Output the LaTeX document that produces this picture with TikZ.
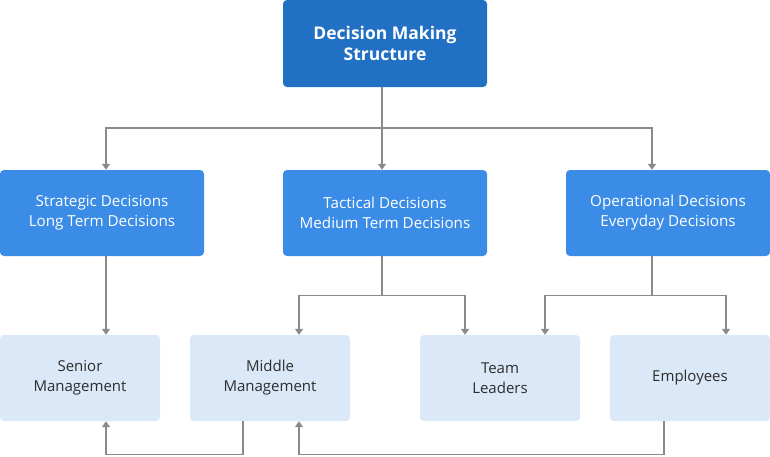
\documentclass[tikz,border=0pt]{standalone}
\usepackage{fontspec}
\setmainfont{Open Sans}
\usepackage{tikz}
\usetikzlibrary{arrows.meta,positioning,calc}
\definecolor{inkDeep}{RGB}{34, 112, 195}
\definecolor{inkMid}{RGB}{58, 140, 230}
\definecolor{inkPale}{RGB}{218, 232, 248}
\definecolor{inkText}{RGB}{45, 45, 45}
\definecolor{inkLine}{RGB}{138, 138, 138}

\begin{document}
\begin{tikzpicture}[x=1pt, y=-1pt,
    box/.style={rounded corners=4pt, align=center, inner sep=0pt},
    rootbox/.style={box, fill=inkDeep, text=white, minimum width=204pt, minimum height=87pt,
        font=\fontsize{17.5}{20.5}\selectfont\bfseries},
    levelbox/.style={box, fill=inkMid, text=white, minimum width=204pt, minimum height=86pt,
        font=\fontsize{15.2}{20}\selectfont},
    rolebox/.style={box, fill=inkPale, text=inkText, minimum width=160pt, minimum height=86pt,
        font=\fontsize{15}{20}\selectfont},
    wire/.style={draw=inkLine, line width=1.5pt},
    link/.style={wire, -{Triangle[length=6pt,width=8pt]}}]
    \useasboundingbox (0,0) rectangle (770,456);

    % top
    \node[rootbox] (root) at (385,43.5) {Decision Making\\Structure};

    % decision levels
    \node[levelbox] (strat) at (102,213) {Strategic Decisions\\Long Term Decisions};
    \node[levelbox] (tact) at (385,213) {Tactical Decisions\\Medium Term Decisions};
    \node[levelbox] (oper) at (668,213) {Operational Decisions\\Everyday Decisions};

    % roles
    \node[rolebox] (senior) at (80,378) {Senior\\Management};
    \node[rolebox] (middle) at (270,378) {Middle\\Management};
    \node[rolebox] (team) at (500,378) {Team\\Leaders};
    \node[rolebox] (staff) at (690,378) {Employees};

    % root to levels
    \coordinate (busRoot) at (382,128);
    \draw[wire] (root.south -| busRoot) -- (busRoot);
    \draw[link] (busRoot) -| ([xshift=4]strat.north);
    \draw[link] (busRoot) -- (busRoot |- tact.north);
    \draw[link] (busRoot) -| ([xshift=-16]oper.north);

    % levels to roles
    \draw[link] ([xshift=4]strat.south) -- ([xshift=26]senior.north);
    \coordinate (busTact) at (382,295.5);
    \draw[wire] (tact.south -| busTact) -- (busTact);
    \draw[link] (busTact) -| ([xshift=29]middle.north);
    \draw[link] (busTact) -| ([xshift=-35]team.north);
    \coordinate (busOper) at (652,295.5);
    \draw[wire] (oper.south -| busOper) -- (busOper);
    \draw[link] (busOper) -| ([xshift=45]team.north);
    \draw[link] (busOper) -| ([xshift=36]staff.north);

    % reporting back
    \draw[link] ([xshift=-27]middle.south) -- ++(0,33.5) -| ([xshift=26]senior.south);
    \draw[link] ([xshift=-26]staff.south) -- ++(0,33.5) -| ([xshift=29]middle.south);
\end{tikzpicture}
\end{document}
